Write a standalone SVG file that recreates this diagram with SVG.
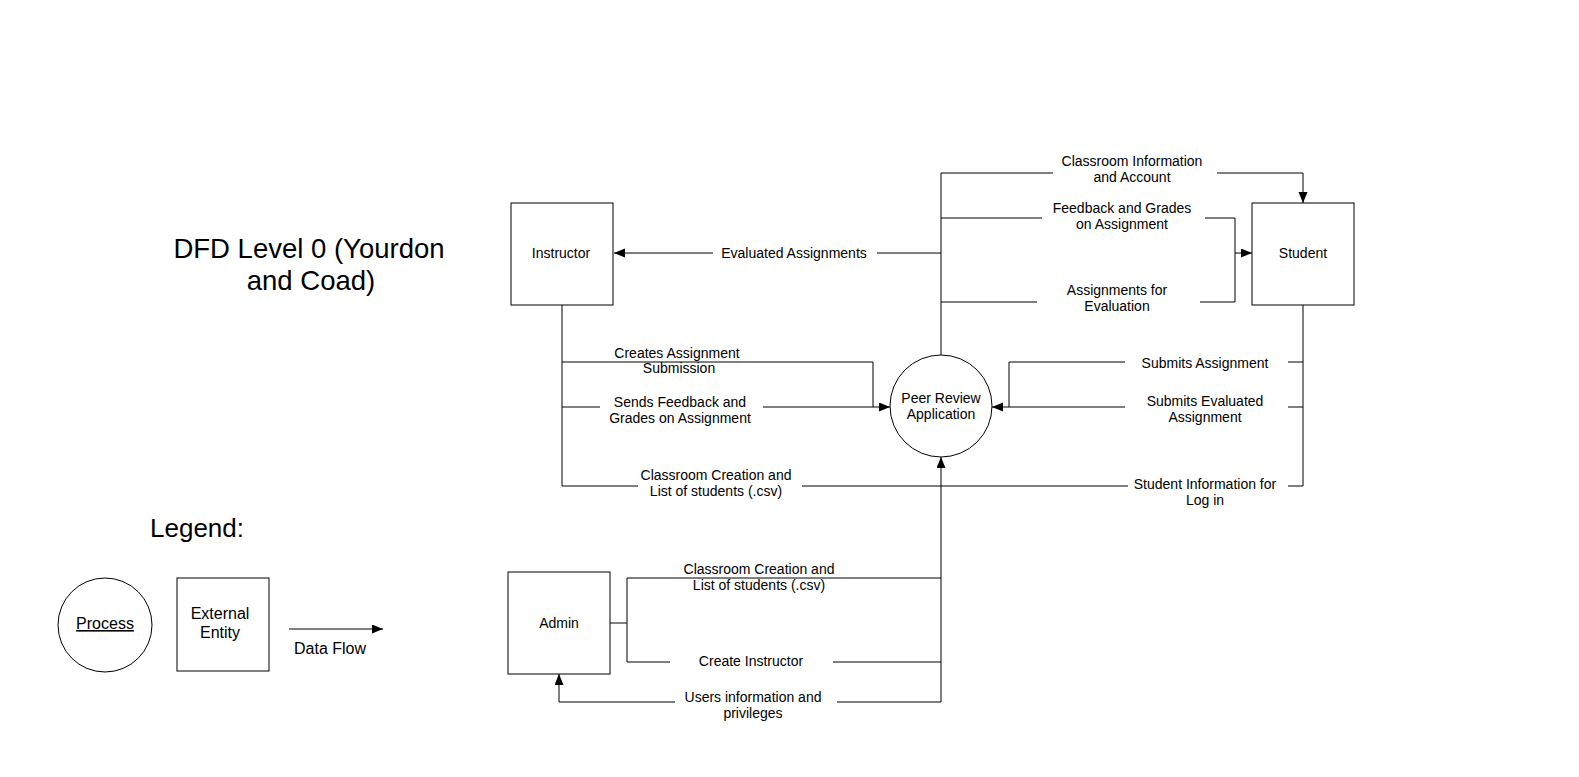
<svg xmlns="http://www.w3.org/2000/svg" width="1579" height="777" viewBox="0 0 1579 777">
<style>
text{font-family:"Liberation Sans",Arial,sans-serif;fill:#000;text-anchor:middle}
.t{font-size:14px}
.l{font-size:16px}
.h{font-size:27.5px}
.box{fill:#fff;stroke:#000;stroke-width:1}
.c{fill:none;stroke:#000;stroke-width:1}
</style>
<defs>
<marker id="ah" markerUnits="userSpaceOnUse" markerWidth="12" markerHeight="10" refX="11" refY="4.5" orient="auto">
<path d="M0,0 L11,4.5 L0,9 z" fill="#000"/>
</marker>
</defs>
<rect width="1579" height="777" fill="#fff"/>

<g id="title"><text class="h" x="309" y="258">DFD Level 0 (Yourdon</text><text class="h" x="311" y="290">and Coad)</text></g>

<g id="connectors">
<path class="c" d="M941,253 H877"/>
<path class="c" d="M713,253 H614" marker-end="url(#ah)"/>
<path class="c" d="M941,355 V173 H1053"/>
<path class="c" d="M1217,173 H1303 V203" marker-end="url(#ah)"/>
<path class="c" d="M941,218 H1042"/>
<path class="c" d="M1205,218 H1235 V302 H1200"/>
<path class="c" d="M1037,302 H941"/>
<path class="c" d="M1235,253 H1252" marker-end="url(#ah)"/>
<path class="c" d="M562,305 V486 H638"/>
<path class="c" d="M562,362 H873 V407"/>
<path class="c" d="M562,407 H600"/>
<path class="c" d="M763,407 H890" marker-end="url(#ah)"/>
<path class="c" d="M802,486 H1128"/>
<path class="c" d="M1288,486 H1303 V305"/>
<path class="c" d="M1303,362 H1288"/>
<path class="c" d="M1125,362 H1009 V407"/>
<path class="c" d="M1303,407 H1288"/>
<path class="c" d="M1125,407 H992" marker-end="url(#ah)"/>
<path class="c" d="M941,702 V457" marker-end="url(#ah)"/>
<path class="c" d="M610,623 H627"/>
<path class="c" d="M627,578 H941"/>
<path class="c" d="M627,578 V662 H670"/>
<path class="c" d="M833,662 H941"/>
<path class="c" d="M941,702 H837"/>
<path class="c" d="M675,702 H559 V674" marker-end="url(#ah)"/>
</g>

<g id="labels">
<text class="t" x="794" y="258">Evaluated Assignments</text>
<text class="t" x="1132" y="166">Classroom Information</text>
<text class="t" x="1132" y="182">and Account</text>
<text class="t" x="1122" y="213">Feedback and Grades</text>
<text class="t" x="1122" y="229">on Assignment</text>
<text class="t" x="1117" y="295">Assignments for</text>
<text class="t" x="1117" y="311">Evaluation</text>
<text class="t" x="677" y="358">Creates Assignment</text>
<text class="t" x="679" y="373">Submission</text>
<text class="t" x="680" y="407">Sends Feedback and</text>
<text class="t" x="680" y="423">Grades on Assignment</text>
<text class="t" x="716" y="480">Classroom Creation and</text>
<text class="t" x="716" y="496">List of students (.csv)</text>
<text class="t" x="1205" y="368">Submits Assignment</text>
<text class="t" x="1205" y="406">Submits Evaluated</text>
<text class="t" x="1205" y="422">Assignment</text>
<text class="t" x="1205" y="489">Student Information for</text>
<text class="t" x="1205" y="505">Log in</text>
<text class="t" x="759" y="574">Classroom Creation and</text>
<text class="t" x="759" y="590">List of students (.csv)</text>
<text class="t" x="751" y="666">Create Instructor</text>
<text class="t" x="753" y="702">Users information and</text>
<text class="t" x="753" y="718">privileges</text>
</g>

<g id="instructor"><rect class="box" x="511" y="203" width="102" height="102"/><text class="t" x="561" y="258">Instructor</text></g>
<g id="student"><rect class="box" x="1252" y="203" width="102" height="102"/><text class="t" x="1303" y="258">Student</text></g>
<g id="admin"><rect class="box" x="508" y="572" width="102" height="102"/><text class="t" x="559" y="628">Admin</text></g>
<g id="peer-review"><circle class="box" cx="941" cy="406" r="51"/><text class="t" x="941" y="403">Peer Review</text><text class="t" x="941" y="419">Application</text></g>

<g id="legend">
<text class="h" x="197" y="537" style="font-size:26px">Legend:</text>
<g id="legend-process"><circle class="box" cx="105" cy="625" r="47"/><text class="l" x="105" y="629" text-decoration="underline">Process</text></g>
<g id="legend-entity"><rect class="box" x="177" y="578" width="92" height="93"/><text class="l" x="220" y="619">External</text><text class="l" x="220" y="638">Entity</text></g>
<g id="legend-flow"><path class="c" d="M289,629 H383" marker-end="url(#ah)"/><text class="l" x="330" y="654">Data Flow</text></g>
</g>
</svg>
